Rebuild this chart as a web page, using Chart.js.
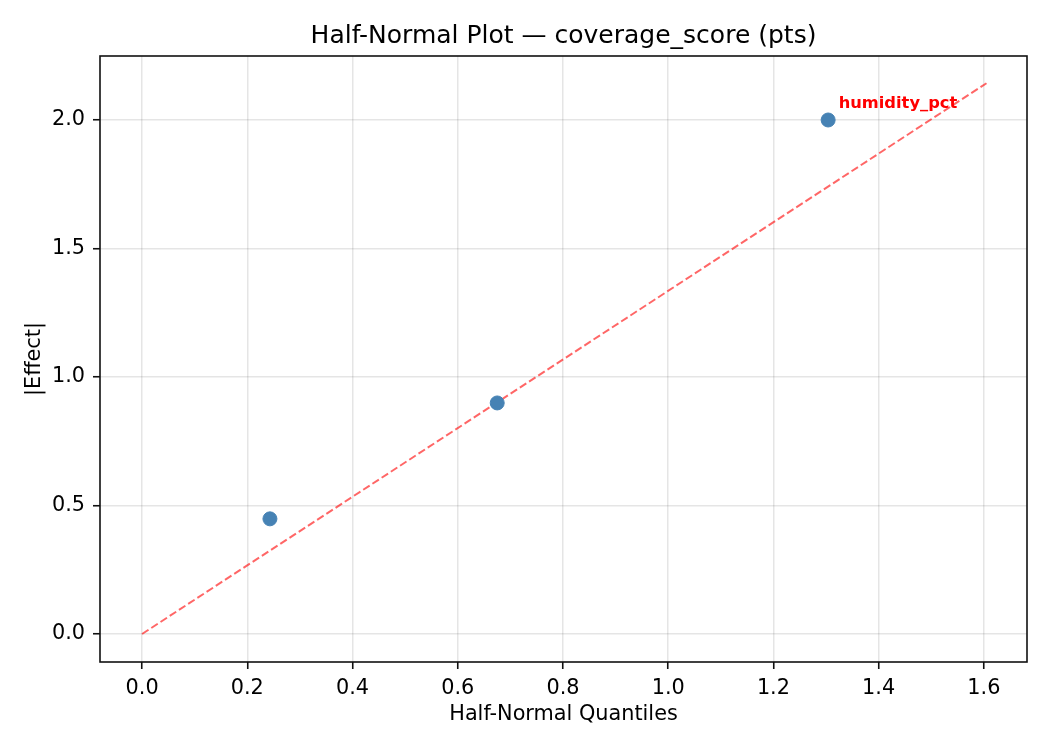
<!DOCTYPE html>
<html>
<head>
<meta charset="utf-8">
<script src="https://cdn.jsdelivr.net/npm/chart.js@4"></script>
<style>
  html, body { margin: 0; padding: 0; background: #fff; }
  #wrap { width: 1050px; height: 750px; }
</style>
</head>
<body>
<div id="wrap"><canvas id="hn-chart"></canvas></div>
<script>
// --- data ---
const factorNames = ["", "", "humidity_pct"];
const quantiles   = [0.243, 0.675, 1.304];
const absEffects  = [0.448, 0.899, 2.0];

// reference line from origin
const refLineX = [0, 1.605];
const refLineY = [0, 2.143];

const xTicks = [0.0, 0.2, 0.4, 0.6, 0.8, 1.0, 1.2, 1.4, 1.6];
const yTicks = [0.0, 0.5, 1.0, 1.5, 2.0];

const FONT = "'DejaVu Sans', sans-serif";

// black frame round the plot area (matplotlib style)
const frame = {
  id: "frame",
  afterDatasetsDraw(chart) {
    const { ctx, chartArea: a } = chart;
    ctx.save();
    ctx.strokeStyle = "#111";
    ctx.lineWidth = 1.6;
    ctx.strokeRect(a.left, a.top, a.right - a.left, a.bottom - a.top);
    ctx.restore();
  }
};

// bold red label next to the named factor
const labels = {
  id: "labels",
  afterDatasetsDraw(chart) {
    const { ctx, scales: { x, y } } = chart;
    ctx.save();
    ctx.fillStyle = "#ff0000";
    ctx.font = "bold 16.3px " + FONT;
    ctx.textBaseline = "alphabetic";
    factorNames.forEach((name, i) => {
      if (!name) return;
      ctx.fillText(name, x.getPixelForValue(quantiles[i]) + 10.5, y.getPixelForValue(absEffects[i]) - 11.5);
    });
    ctx.restore();
  }
};

const ctx = document.getElementById("hn-chart").getContext("2d");

new Chart(ctx, {
  type: "scatter",
  data: {
    datasets: [
      {
        label: "effects",
        data: quantiles.map((q, i) => ({ x: q, y: absEffects[i] })),
        backgroundColor: "#4682b4",
        borderColor: "#4682b4",
        pointRadius: 7,
        pointHoverRadius: 7,
        order: 1
      },
      {
        label: "reference",
        type: "line",
        data: refLineX.map((v, i) => ({ x: v, y: refLineY[i] })),
        borderColor: "rgba(255, 0, 0, 0.6)",
        borderWidth: 2,
        borderDash: [7.7, 3.3],
        pointRadius: 0,
        fill: false,
        order: 2
      }
    ]
  },
  options: {
    responsive: true,
    maintainAspectRatio: false,
    animation: false,
    layout: { padding: { left: 0, right: 23, top: 0, bottom: 0 } },
    plugins: {
      legend: { display: false },
      tooltip: { enabled: false },
      title: {
        display: true,
        fullSize: false,
        text: "Half-Normal Plot — coverage_score (pts)",
        color: "#000",
        font: { family: FONT, size: 25, weight: "normal" },
        padding: { top: 21, bottom: 5 }
      }
    },
    scales: {
      x: {
        type: "linear",
        min: -0.08,
        max: 1.682,
        afterBuildTicks: s => { s.ticks = xTicks.map(v => ({ value: v })); },
        afterFit: s => { s.height = 88; },
        ticks: {
          color: "#000",
          font: { family: FONT, size: 20.8 },
          padding: 7,
          callback: v => v.toFixed(1)
        },
        grid: { color: "rgba(0,0,0,0.1)", lineWidth: 1.5, tickColor: "#111", tickWidth: 1.6, tickLength: 7 },
        border: { display: false },
        title: {
          display: true,
          text: "Half-Normal Quantiles",
          color: "#000",
          font: { family: FONT, size: 20.8 },
          padding: { top: 0, bottom: 22.5 }
        }
      },
      y: {
        type: "linear",
        min: -0.109,
        max: 2.249,
        afterBuildTicks: s => { s.ticks = yTicks.map(v => ({ value: v })); },
        afterFit: s => { s.width = 100; },
        ticks: {
          color: "#000",
          font: { family: FONT, size: 20.8 },
          padding: 8,
          callback: v => v.toFixed(1)
        },
        grid: { color: "rgba(0,0,0,0.1)", lineWidth: 1.5, tickColor: "#111", tickWidth: 1.6, tickLength: 7 },
        border: { display: false },
        title: {
          display: true,
          text: "|Effect|",
          color: "#000",
          font: { family: FONT, size: 20.8 },
          padding: { top: 22.5, bottom: 0 }
        }
      }
    }
  },
  plugins: [frame, labels]
});
</script>
</body>
</html>
